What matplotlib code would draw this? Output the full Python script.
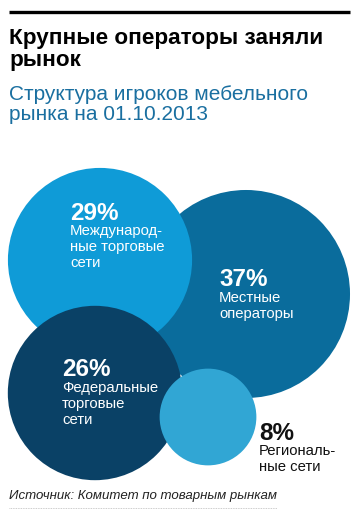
import numpy as np
from matplotlib import pyplot as plt
from matplotlib.patches import Circle

# shares of the furniture market, %
shares = [29, 37, 26, 8]
names = ["Международ-\nные торговые\nсети", "Местные\nоператоры",
         "Федеральные\nторговые\nсети", "Региональ-\nные сети"]
colors = ["#0f9bd7", "#0a6c9c", "#0a4166", "#31a6d4"]

# layout in pixels (origin top-left)
centers = [(100, 260), (246, 294), (95, 393), (208, 417)]
order = [1, 0, 2, 3]
label_pos = [(70, 213), (219, 280), (62, 370), (259, 433)]
label_col = ["white", "white", "white", "#111111"]
k = 17.1  # px per sqrt(%), so area ~ share

plt.rcParams['font.family'] = ['Liberation Sans Narrow', 'Liberation Sans', 'DejaVu Sans']

fig = plt.figure(figsize=(3.58, 5.22), dpi=100)
ax = fig.add_axes([0, 0, 1, 1])
ax.set_xlim(0, 358)
ax.set_ylim(522, 0)
ax.axis("off")

ax.plot([9, 350], [12, 12], color="black", linewidth=2.4, solid_capstyle="butt")
ax.text(9, 28, "Крупные операторы заняли\nрынок", fontsize=16.2, fontweight="bold",
        va="top", ha="left", linespacing=1.07)
ax.text(9, 85, "Структура игроков мебельного\nрынка на 01.10.2013", fontsize=15,
        color="#1a6fa0", va="top", ha="left", linespacing=1.08)

for z, i in enumerate(order):
    r = k * np.sqrt(shares[i])
    ax.add_patch(Circle(centers[i], r, color=colors[i], zorder=z + 1, linewidth=0))

for i in range(len(shares)):
    x, y = label_pos[i]
    ax.text(x, y, f"{shares[i]}%", color=label_col[i], fontsize=17.5, fontweight="bold",
            va="center", ha="left", zorder=10)
    ax.text(x, y + 11, names[i], color=label_col[i], fontsize=10.7, va="top", ha="left",
            linespacing=1.2, zorder=10)

ax.text(9, 496, "Источник: Комитет по товарным рынкам", fontsize=9.5, style="italic",
        color="#222222", va="center", ha="left")
ax.plot([9, 277], [508, 508], color="#bbbbbb", linewidth=0.6, linestyle=(0, (1, 1)))

fig.savefig("out.png", dpi=100)
